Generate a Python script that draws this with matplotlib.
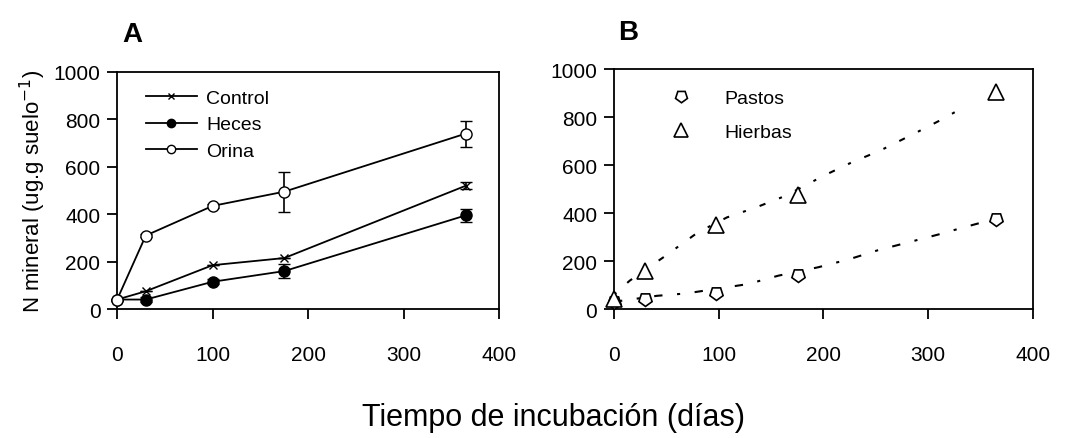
import matplotlib.pyplot as plt
from matplotlib.lines import Line2D

plt.rcParams['font.family'] = ['Liberation Sans', 'DejaVu Sans']

# Panel A data
dias = [0, 30, 100, 175, 365]
control = [40, 75, 185, 215, 520]
control_err = [0, 0, 0, 0, 15]
heces = [40, 40, 115, 160, 395]
heces_err = [0, 10, 10, 30, 28]
orina = [40, 310, 435, 495, 740]
orina_err = [0, 8, 8, 85, 55]

# Panel B data
dias_b = [0, 30, 97, 176, 365]
pastos = [30, 40, 65, 140, 375]
hierbas = [40, 160, 350, 475, 905]

# fitted curves
pastos_fit_x = [0, 41, 69, 128, 157, 195, 225, 252, 283, 311, 332, 349]
pastos_fit_y = [30, 55, 65, 104, 139, 174, 208, 245, 280, 312, 338, 358]
hierbas_fit_x = [0, 15, 47, 80, 108, 136, 164, 200, 227, 254, 289, 314, 335]
hierbas_fit_y = [60, 118, 215, 319, 382, 424, 472, 555, 611, 660, 736, 792, 844]

xticks = [0, 100, 200, 300, 400]
yticks = [0, 200, 400, 600, 800, 1000]

fig = plt.figure(figsize=(10.65, 4.39), dpi=100)
axA = fig.add_axes([0.110, 0.2938, 0.3587, 0.540])
axB = fig.add_axes([0.5765, 0.2938, 0.3934, 0.5467])


def style_axis(ax):
    ax.set_xlim(0, 400)
    ax.set_ylim(0, 1000)
    ax.set_xticks(xticks)
    ax.set_yticks(yticks)
    for s in ax.spines.values():
        s.set_linewidth(1.3)
    ax.tick_params(axis='both', direction='out', length=7, width=1.3, labelsize=15)
    ax.tick_params(axis='x', pad=19)
    ax.tick_params(axis='y', pad=5)


# Panel A
lw = 1.3
axA.errorbar(dias, control, yerr=control_err, color='black', lw=lw, marker='x',
             ms=6, mew=1, capsize=4, elinewidth=1.2, clip_on=False, zorder=3)
axA.errorbar(dias, heces, yerr=heces_err, color='black', lw=lw, marker='o',
             ms=8, mfc='black', capsize=4, elinewidth=1.2, clip_on=False, zorder=3)
axA.errorbar(dias, orina, yerr=orina_err, color='black', lw=lw, marker='o',
             ms=8, mfc='white', mew=1, capsize=4, elinewidth=1.2, clip_on=False, zorder=4)
style_axis(axA)
axA.set_ylabel(r'N mineral (ug.g suelo$^{-1}$)', fontsize=16, labelpad=4)

handlesA = [
    Line2D([], [], color='black', lw=lw, marker='x', ms=5, mew=1),
    Line2D([], [], color='black', lw=lw, marker='o', ms=6, mfc='black'),
    Line2D([], [], color='black', lw=lw, marker='o', ms=6, mfc='white'),
]
axA.legend(handlesA, ['Control', 'Heces', 'Orina'], loc='upper left',
           bbox_to_anchor=(0.03, 1.0), frameon=False, fontsize=14,
           handlelength=2.6, handletextpad=0.5, labelspacing=0.45)

# Panel B
axB.plot(pastos_fit_x, pastos_fit_y, color='black', lw=1.5,
         linestyle=(0, (4, 7, 1.5, 7)))
axB.plot(hierbas_fit_x, hierbas_fit_y, color='black', lw=1.5,
         linestyle=(0, (1.5, 7, 3, 7)))
axB.plot(dias_b, pastos, linestyle='none', marker=(5, 0, 180), ms=10,
         mfc='white', mec='black', mew=1.2, clip_on=False, zorder=3)
axB.plot(dias_b, hierbas, linestyle='none', marker='^', ms=11,
         mfc='white', mec='black', mew=1.2, clip_on=False, zorder=3)
style_axis(axB)

handlesB = [
    Line2D([], [], linestyle='none', marker=(5, 0, 180), ms=9, mfc='white',
           mec='black', mew=1.2),
    Line2D([], [], linestyle='none', marker='^', ms=10, mfc='white',
           mec='black', mew=1.2),
]
axB.legend(handlesB, ['Pastos', 'Hierbas'], loc='upper left',
           bbox_to_anchor=(0.06, 0.99), frameon=False, fontsize=14,
           handlelength=2.5, handletextpad=1.0, labelspacing=0.85)

# panel letters
fig.text(132 / 1065, 1 - 35 / 439, 'A', fontsize=20, fontweight='bold',
         ha='center', va='center')
fig.text(628 / 1065, 1 - 33 / 439, 'B', fontsize=20, fontweight='bold',
         ha='center', va='center')

fig.text(0.52, 1 - 418 / 439, 'Tiempo de incubación (días)', fontsize=22,
         ha='center', va='center')

fig.savefig('out.png', dpi=100)
